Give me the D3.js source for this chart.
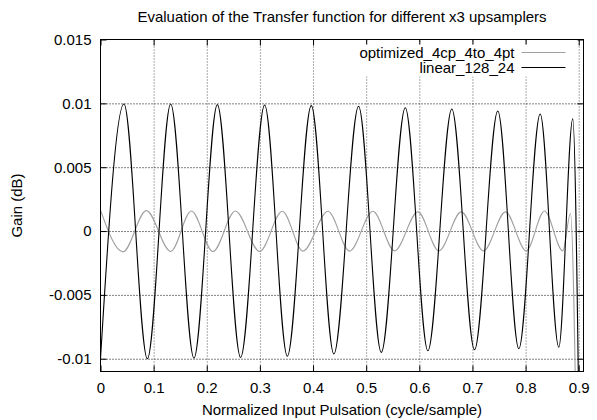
<!DOCTYPE html>
<html>
<head>
<meta charset="utf-8">
<script src="https://cdn.jsdelivr.net/npm/d3@7"></script>
<style>
  body { margin: 0; background: #fff; }
  svg { display: block; }
  text { font-family: "Liberation Sans", Arial, sans-serif; font-size: 15px; fill: #000; }
</style>
</head>
<body>
<div id="chart"></div>
<script>
// values (extrema of each curve)
var linearX = [0, 0.0442, 0.0882, 0.1321, 0.1759, 0.2199, 0.2637, 0.3089, 0.3516, 0.3967, 0.4392,
    0.4857, 0.5284, 0.5736, 0.6161, 0.6612, 0.7039, 0.7477, 0.7873, 0.8275, 0.8625, 0.8888, 0.902];
var linearY = [-0.0100, 0.00995, -0.0100, 0.00995, -0.00995, 0.0099, -0.0099, 0.00987, -0.0098, 0.00982, -0.00963,
    0.00977, -0.0095, 0.00966, -0.00938, 0.00956, -0.0093, 0.0094, -0.00922, 0.00917, -0.0091, 0.00878, -0.02];

var optX = [0, 0.0423, 0.0863, 0.1321, 0.1710, 0.2116, 0.2538, 0.2995, 0.3422, 0.3809, 0.4280, 0.4688,
    0.5126, 0.5534, 0.5973, 0.6368, 0.6789, 0.7208, 0.7622, 0.8012, 0.8356, 0.8700, 0.8845, 0.8970];
var optY = [0.00163, -0.00163, 0.0016, -0.0016, 0.00157, -0.0016, 0.00157, -0.0016, 0.00155, -0.00157, 0.00155, -0.00157,
    0.00155, -0.00155, 0.0015, -0.00155, 0.0015, -0.00155, 0.0015, -0.00155, 0.00157, -0.00155, 0.00137, -0.02];

var seriesNames = ["optimized_4cp_4to_4pt", "linear_128_24"];
var seriesColors = ["#a0a0a0", "#000000"];

var xTicks = [0, 0.1, 0.2, 0.3, 0.4, 0.5, 0.6, 0.7, 0.8, 0.9];
var xTickLabels = ["0", "0.1", "0.2", "0.3", "0.4", "0.5", "0.6", "0.7", "0.8", "0.9"];
var yTicks = [-0.01, -0.005, 0, 0.005, 0.01, 0.015];
var yTickLabels = ["-0.01", "-0.005", "0", "0.005", "0.01", "0.015"];

// set the dimensions and margins of the graph
var W = 597, H = 420;
var margin = {top: 39.5, right: 13.5, bottom: 48.5, left: 100.5},
    width = W - margin.left - margin.right,
    height = H - margin.top - margin.bottom;

var svg = d3.select("#chart").append("svg")
    .attr("width", W)
    .attr("height", H);

var g = svg.append("g")
    .attr("transform", "translate(" + margin.left + "," + margin.top + ")");

var x = d3.scaleLinear().domain([0, 0.909]).range([0, width]);
var y = d3.scaleLinear().domain([-0.011, 0.015]).range([height, 0]);

// dotted grid
g.append("g")
    .attr("transform", "translate(0," + height + ")")
    .call(d3.axisBottom(x).tickValues(xTicks.slice(1)).tickSize(-height).tickFormat(""))
    .call(function (s) {
        s.select(".domain").remove();
        s.selectAll("line").attr("stroke", "#555").attr("stroke-dasharray", "1,2");
    });
g.append("g")
    .call(d3.axisLeft(y).tickValues(yTicks.slice(0, 5)).tickSize(-width).tickFormat(""))
    .call(function (s) {
        s.select(".domain").remove();
        s.selectAll("line").attr("stroke", "#000").attr("stroke-dasharray", "1,2");
    });

// axes with inward ticks, mirrored on top and right
g.append("g")
    .attr("transform", "translate(0," + height + ")")
    .call(d3.axisBottom(x).tickValues(xTicks).tickSize(-6).tickPadding(11)
        .tickFormat(function (d, i) { return xTickLabels[i]; }));
g.append("g")
    .call(d3.axisTop(x).tickValues(xTicks).tickSize(-6).tickFormat(""));
g.append("g")
    .call(d3.axisLeft(y).tickValues(yTicks).tickSize(-6).tickPadding(9)
        .tickFormat(function (d, i) { return yTickLabels[i]; }));
g.append("g")
    .attr("transform", "translate(" + width + ",0)")
    .call(d3.axisRight(y).tickValues(yTicks).tickSize(-6).tickFormat(""));

g.selectAll(".tick text")
    .style("font-family", "'Liberation Sans', Arial, sans-serif")
    .style("font-size", "15px")
    .attr("fill", "#000");
g.selectAll(".domain").attr("stroke", "none");

// legend background hides the grid under the key
g.append("rect")
    .attr("x", 255).attr("y", 5)
    .attr("width", width - 265).attr("height", 32)
    .attr("fill", "#fff");

// curves
svg.append("clipPath").attr("id", "clip")
    .append("rect").attr("width", width).attr("height", height);

var line = d3.line()
    .x(function (d) { return x(d[0]); })
    .y(function (d) { return y(d[1]); })
    .curve(d3.curveMonotoneX);

var series = [
    d3.zip(optX, optY),
    d3.zip(linearX, linearY)
];

g.append("g").attr("clip-path", "url(#clip)")
    .selectAll("path")
    .data(series)
    .enter().append("path")
    .attr("d", line)
    .attr("fill", "none")
    .attr("stroke", function (d, i) { return seriesColors[i]; })
    .attr("stroke-width", 1.1);

// border
g.append("rect")
    .attr("width", width).attr("height", height)
    .attr("fill", "none").attr("stroke", "#000").attr("stroke-width", 1);

// legend
var key = g.append("g");
seriesNames.forEach(function (name, i) {
    var ky = 13 + i * 15;
    key.append("text")
        .attr("x", 414).attr("y", ky)
        .attr("dy", "0.35em")
        .style("text-anchor", "end")
        .text(name);
    key.append("line")
        .attr("x1", 421).attr("x2", 465)
        .attr("y1", ky).attr("y2", ky)
        .attr("stroke", seriesColors[i]).attr("stroke-width", 1);
});

// title and axis labels
svg.append("text")
    .attr("x", margin.left + width / 2)
    .attr("y", 22)
    .style("text-anchor", "middle")
    .text("Evaluation of the Transfer function for different x3 upsamplers");

svg.append("text")
    .attr("x", margin.left + width / 2)
    .attr("y", 415)
    .style("text-anchor", "middle")
    .text("Normalized Input Pulsation (cycle/sample)");

svg.append("text")
    .attr("transform", "rotate(-90)")
    .attr("x", -(margin.top + height / 2))
    .attr("y", 22)
    .style("text-anchor", "middle")
    .text("Gain (dB)");
</script>
</body>
</html>
